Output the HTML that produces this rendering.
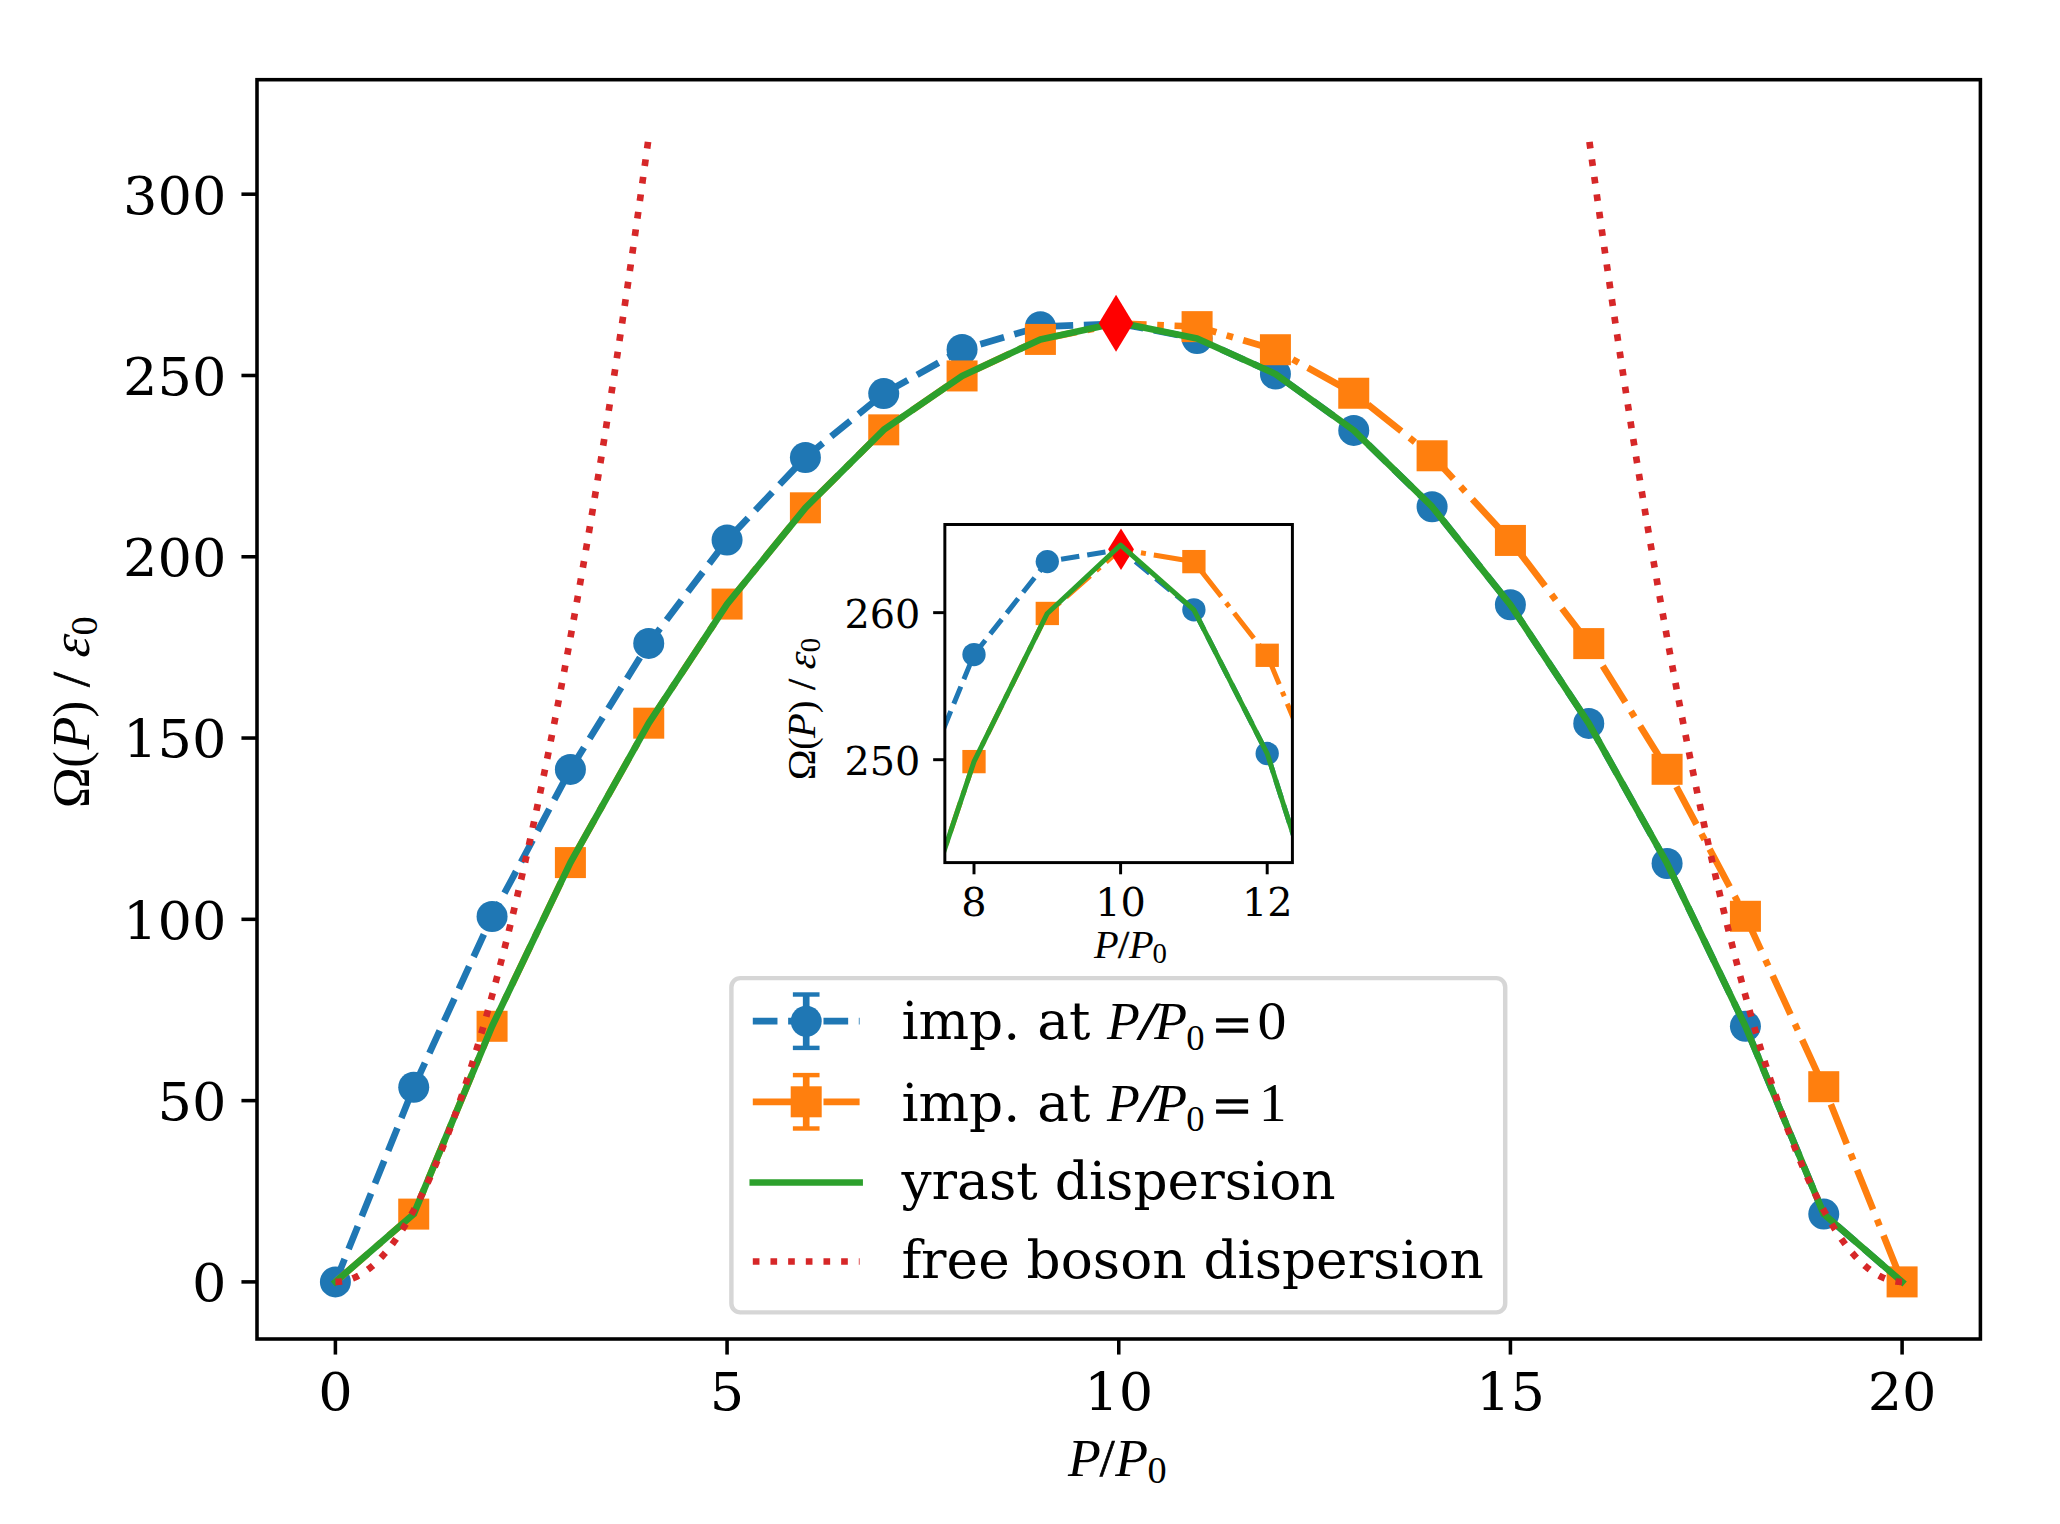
<!DOCTYPE html>
<html><head><meta charset="utf-8"><title>Dispersion</title><style>html,body{margin:0;padding:0;background:#fff}svg{display:block}</style></head><body>
<svg width="2060" height="1524" viewBox="0 0 2060 1524">
<style>.t{font-family:"DejaVu Serif","Liberation Serif",serif;fill:#000}.mr{font-family:"Liberation Serif","DejaVu Serif",serif;fill:#000}.mi{font-family:"Liberation Serif","DejaVu Serif",serif;font-style:italic;fill:#000}</style>
<rect width="2060" height="1524" fill="#fff"/>
<defs><clipPath id="cm"><rect x="257" y="79.7" width="1723.4" height="1259.3"/></clipPath>
<clipPath id="ci"><rect x="944.85" y="524.5" width="347.55" height="338.1"/></clipPath></defs>
<g clip-path="url(#cm)" fill="none">
<polyline stroke="#1f77b4" stroke-width="6.67" stroke-dasharray="24.67 10.67" stroke-dashoffset="0" points="335.4,1281.9 413.73,1087.31 492.07,916.43 570.4,769.41 648.74,643.41 727.07,540.08 805.41,457.42 883.74,393.6 962.08,349.55 1040.41,326.64 1118.75,323.63 1197.09,338.53 1275.42,373.95 1353.75,430.4 1432.09,506.73 1510.42,604.8 1588.76,723.4 1667.09,863.49 1745.43,1026.29 1823.76,1214.1 1902.1,1281.9"/>
<circle cx="335.4" cy="1281.9" r="15.5" fill="#1f77b4"/>
<circle cx="413.73" cy="1087.31" r="15.5" fill="#1f77b4"/>
<circle cx="492.07" cy="916.43" r="15.5" fill="#1f77b4"/>
<circle cx="570.4" cy="769.41" r="15.5" fill="#1f77b4"/>
<circle cx="648.74" cy="643.41" r="15.5" fill="#1f77b4"/>
<circle cx="727.07" cy="540.08" r="15.5" fill="#1f77b4"/>
<circle cx="805.41" cy="457.42" r="15.5" fill="#1f77b4"/>
<circle cx="883.74" cy="393.6" r="15.5" fill="#1f77b4"/>
<circle cx="962.08" cy="349.55" r="15.5" fill="#1f77b4"/>
<circle cx="1040.41" cy="326.64" r="15.5" fill="#1f77b4"/>
<circle cx="1197.09" cy="338.53" r="15.5" fill="#1f77b4"/>
<circle cx="1275.42" cy="373.95" r="15.5" fill="#1f77b4"/>
<circle cx="1353.75" cy="430.4" r="15.5" fill="#1f77b4"/>
<circle cx="1432.09" cy="506.73" r="15.5" fill="#1f77b4"/>
<circle cx="1510.42" cy="604.8" r="15.5" fill="#1f77b4"/>
<circle cx="1588.76" cy="723.4" r="15.5" fill="#1f77b4"/>
<circle cx="1667.09" cy="863.49" r="15.5" fill="#1f77b4"/>
<circle cx="1745.43" cy="1026.29" r="15.5" fill="#1f77b4"/>
<circle cx="1823.76" cy="1214.1" r="15.5" fill="#1f77b4"/>
<polyline stroke="#ff7f0e" stroke-width="6.67" stroke-dasharray="42.67 10.67 6.67 10.67" stroke-dashoffset="0" points="335.4,1281.9 413.73,1214.1 492.07,1026.29 570.4,862.59 648.74,723.18 727.07,604.08 805.41,507.81 883.74,429.86 962.08,375.95 1040.41,339.42 1118.75,323.63 1197.09,326.64 1275.42,349.73 1353.75,393.24 1432.09,455.78 1510.42,540.44 1588.76,643.6 1667.09,769.3 1745.43,916.28 1823.76,1086.69 1902.1,1281.9"/>
<rect x="398.23" y="1198.6" width="31" height="31" fill="#ff7f0e"/>
<rect x="476.57" y="1010.79" width="31" height="31" fill="#ff7f0e"/>
<rect x="554.9" y="847.09" width="31" height="31" fill="#ff7f0e"/>
<rect x="633.24" y="707.68" width="31" height="31" fill="#ff7f0e"/>
<rect x="711.57" y="588.58" width="31" height="31" fill="#ff7f0e"/>
<rect x="789.91" y="492.31" width="31" height="31" fill="#ff7f0e"/>
<rect x="868.24" y="414.36" width="31" height="31" fill="#ff7f0e"/>
<rect x="946.58" y="360.45" width="31" height="31" fill="#ff7f0e"/>
<rect x="1024.91" y="323.92" width="31" height="31" fill="#ff7f0e"/>
<rect x="1181.59" y="311.14" width="31" height="31" fill="#ff7f0e"/>
<rect x="1259.92" y="334.23" width="31" height="31" fill="#ff7f0e"/>
<rect x="1338.25" y="377.74" width="31" height="31" fill="#ff7f0e"/>
<rect x="1416.59" y="440.28" width="31" height="31" fill="#ff7f0e"/>
<rect x="1494.92" y="524.94" width="31" height="31" fill="#ff7f0e"/>
<rect x="1573.26" y="628.1" width="31" height="31" fill="#ff7f0e"/>
<rect x="1651.59" y="753.8" width="31" height="31" fill="#ff7f0e"/>
<rect x="1729.93" y="900.78" width="31" height="31" fill="#ff7f0e"/>
<rect x="1808.26" y="1071.19" width="31" height="31" fill="#ff7f0e"/>
<rect x="1886.6" y="1266.4" width="31" height="31" fill="#ff7f0e"/>
<polyline stroke="#2ca02c" stroke-width="6.67" stroke-linejoin="round" stroke-linecap="square" points="335.4,1281.9 413.73,1214.1 492.07,1026.29 570.4,862.59 648.74,723.18 727.07,604.08 805.41,507.81 883.74,429.86 962.08,375.95 1040.41,339.42 1118.75,322.54 1197.09,338.53 1275.42,373.95 1353.75,430.4 1432.09,506.73 1510.42,604.8 1588.76,723.4 1667.09,863.49 1745.43,1026.29 1823.76,1214.1 1902.1,1281.9"/>
<polyline stroke="#d62728" stroke-width="6.67" stroke-dasharray="6.67 11" points="335.4,1281.9 336.18,1281.89 336.97,1281.87 337.75,1281.84 338.53,1281.79 339.32,1281.72 340.1,1281.64 340.88,1281.55 341.67,1281.44 342.45,1281.32 343.23,1281.18 344.02,1281.03 344.8,1280.87 345.58,1280.69 346.37,1280.5 347.15,1280.29 347.93,1280.07 348.72,1279.83 349.5,1279.58 350.28,1279.32 351.07,1279.04 351.85,1278.74 352.63,1278.44 353.42,1278.11 354.2,1277.78 354.98,1277.43 355.77,1277.06 356.55,1276.68 357.33,1276.29 358.12,1275.88 358.9,1275.46 359.68,1275.02 360.47,1274.57 361.25,1274.11 362.03,1273.63 362.82,1273.13 363.6,1272.62 364.38,1272.1 365.17,1271.57 365.95,1271.01 366.73,1270.45 367.52,1269.87 368.3,1269.28 369.08,1268.67 369.87,1268.04 370.65,1267.41 371.43,1266.76 372.22,1266.09 373,1265.41 373.78,1264.72 374.57,1264.01 375.35,1263.29 376.13,1262.55 376.92,1261.8 377.7,1261.03 378.48,1260.25 379.27,1259.46 380.05,1258.65 380.83,1257.82 381.62,1256.99 382.4,1256.14 383.18,1255.27 383.97,1254.39 384.75,1253.49 385.53,1252.59 386.32,1251.66 387.1,1250.72 387.88,1249.77 388.67,1248.81 389.45,1247.83 390.23,1246.83 391.02,1245.82 391.8,1244.8 392.58,1243.76 393.37,1242.71 394.15,1241.64 394.93,1240.56 395.72,1239.47 396.5,1238.36 397.28,1237.23 398.07,1236.1 398.85,1234.94 399.63,1233.78 400.42,1232.6 401.2,1231.4 401.98,1230.19 402.77,1228.97 403.55,1227.73 404.33,1226.48 405.12,1225.21 405.9,1223.93 406.68,1222.63 407.47,1221.32 408.25,1220 409.03,1218.66 409.82,1217.31 410.6,1215.94 411.38,1214.56 412.17,1213.17 412.95,1211.76 413.73,1210.33 414.52,1208.89 415.3,1207.44 416.09,1205.97 416.87,1204.49 417.65,1203 418.44,1201.49 419.22,1199.96 420,1198.42 420.79,1196.87 421.57,1195.3 422.35,1193.72 423.14,1192.12 423.92,1190.51 424.7,1188.89 425.49,1187.25 426.27,1185.6 427.05,1183.93 427.84,1182.25 428.62,1180.55 429.4,1178.84 430.19,1177.12 430.97,1175.38 431.75,1173.62 432.54,1171.86 433.32,1170.07 434.1,1168.28 434.89,1166.47 435.67,1164.64 436.45,1162.8 437.24,1160.95 438.02,1159.08 438.8,1157.2 439.59,1155.3 440.37,1153.39 441.15,1151.47 441.94,1149.53 442.72,1147.57 443.5,1145.61 444.29,1143.62 445.07,1141.63 445.85,1139.61 446.64,1137.59 447.42,1135.55 448.2,1133.5 448.99,1131.43 449.77,1129.34 450.55,1127.25 451.34,1125.14 452.12,1123.01 452.9,1120.87 453.69,1118.72 454.47,1116.55 455.25,1114.37 456.04,1112.17 456.82,1109.96 457.6,1107.73 458.39,1105.49 459.17,1103.24 459.95,1100.97 460.74,1098.68 461.52,1096.39 462.3,1094.08 463.09,1091.75 463.87,1089.41 464.65,1087.05 465.44,1084.69 466.22,1082.3 467,1079.91 467.79,1077.49 468.57,1075.07 469.35,1072.63 470.14,1070.17 470.92,1067.7 471.7,1065.22 472.49,1062.72 473.27,1060.21 474.05,1057.68 474.84,1055.14 475.62,1052.59 476.4,1050.02 477.19,1047.43 477.97,1044.84 478.75,1042.22 479.54,1039.6 480.32,1036.96 481.1,1034.3 481.89,1031.63 482.67,1028.95 483.45,1026.25 484.24,1023.54 485.02,1020.81 485.8,1018.07 486.59,1015.31 487.37,1012.54 488.15,1009.76 488.94,1006.96 489.72,1004.15 490.5,1001.32 491.29,998.48 492.07,995.63 492.85,992.76 493.64,989.87 494.42,986.97 495.2,984.06 495.99,981.13 496.77,978.19 497.55,975.24 498.34,972.27 499.12,969.28 499.9,966.28 500.69,963.27 501.47,960.24 502.25,957.2 503.04,954.15 503.82,951.07 504.6,947.99 505.39,944.89 506.17,941.78 506.95,938.65 507.74,935.51 508.52,932.35 509.3,929.18 510.09,926 510.87,922.8 511.65,919.58 512.44,916.36 513.22,913.11 514,909.86 514.79,906.59 515.57,903.3 516.35,900 517.14,896.69 517.92,893.36 518.7,890.02 519.49,886.66 520.27,883.29 521.05,879.91 521.84,876.51 522.62,873.09 523.4,869.67 524.19,866.22 524.97,862.77 525.75,859.3 526.54,855.81 527.32,852.31 528.1,848.8 528.89,845.27 529.67,841.73 530.45,838.17 531.24,834.6 532.02,831.01 532.8,827.41 533.59,823.8 534.37,820.17 535.15,816.53 535.94,812.87 536.72,809.2 537.5,805.51 538.29,801.81 539.07,798.1 539.85,794.37 540.64,790.63 541.42,786.87 542.2,783.1 542.99,779.31 543.77,775.51 544.55,771.7 545.34,767.87 546.12,764.02 546.9,760.17 547.69,756.29 548.47,752.41 549.25,748.51 550.04,744.59 550.82,740.66 551.6,736.72 552.39,732.76 553.17,728.79 553.95,724.8 554.74,720.8 555.52,716.79 556.3,712.76 557.09,708.72 557.87,704.66 558.65,700.59 559.44,696.5 560.22,692.4 561,688.28 561.79,684.15 562.57,680.01 563.35,675.85 564.14,671.68 564.92,667.49 565.7,663.29 566.49,659.08 567.27,654.85 568.05,650.6 568.84,646.34 569.62,642.07 570.4,637.78 571.19,633.48 571.97,629.17 572.76,624.84 573.54,620.49 574.32,616.13 575.11,611.76 575.89,607.37 576.67,602.97 577.46,598.56 578.24,594.13 579.02,589.68 579.81,585.22 580.59,580.75 581.37,576.26 582.16,571.76 582.94,567.25 583.72,562.72 584.51,558.17 585.29,553.61 586.07,549.04 586.86,544.45 587.64,539.85 588.42,535.23 589.21,530.6 589.99,525.96 590.77,521.3 591.56,516.63 592.34,511.94 593.12,507.24 593.91,502.52 594.69,497.79 595.47,493.04 596.26,488.28 597.04,483.51 597.82,478.72 598.61,473.92 599.39,469.1 600.17,464.27 600.96,459.43 601.74,454.57 602.52,449.69 603.31,444.81 604.09,439.9 604.87,434.99 605.66,430.06 606.44,425.11 607.22,420.15 608.01,415.18 608.79,410.19 609.57,405.19 610.36,400.17 611.14,395.14 611.92,390.09 612.71,385.03 613.49,379.96 614.27,374.87 615.06,369.77 615.84,364.65 616.62,359.52 617.41,354.37 618.19,349.21 618.97,344.04 619.76,338.85 620.54,333.65 621.32,328.43 622.11,323.2 622.89,317.95 623.67,312.69 624.46,307.42 625.24,302.13 626.02,296.82 626.81,291.51 627.59,286.18 628.37,280.83 629.16,275.47 629.94,270.09 630.72,264.7 631.51,259.3 632.29,253.88 633.07,248.45 633.86,243.01 634.64,237.54 635.42,232.07 636.21,226.58 636.99,221.08 637.77,215.56 638.56,210.03 639.34,204.48 640.12,198.92 640.91,193.34 641.69,187.75 642.47,182.15 643.26,176.53 644.04,170.9 644.82,165.25 645.61,159.59 646.39,153.92 647.17,148.23 647.96,142.52 648.74,136.8"/>
<polyline stroke="#d62728" stroke-width="6.67" stroke-dasharray="6.67 11" points="1902.1,1281.9 1901.32,1281.89 1900.53,1281.87 1899.75,1281.84 1898.97,1281.79 1898.18,1281.72 1897.4,1281.64 1896.62,1281.55 1895.83,1281.44 1895.05,1281.32 1894.27,1281.18 1893.48,1281.03 1892.7,1280.87 1891.92,1280.69 1891.13,1280.5 1890.35,1280.29 1889.57,1280.07 1888.78,1279.83 1888,1279.58 1887.22,1279.32 1886.43,1279.04 1885.65,1278.74 1884.87,1278.44 1884.08,1278.11 1883.3,1277.78 1882.52,1277.43 1881.73,1277.06 1880.95,1276.68 1880.17,1276.29 1879.38,1275.88 1878.6,1275.46 1877.82,1275.02 1877.03,1274.57 1876.25,1274.11 1875.47,1273.63 1874.68,1273.13 1873.9,1272.62 1873.12,1272.1 1872.33,1271.57 1871.55,1271.01 1870.77,1270.45 1869.98,1269.87 1869.2,1269.28 1868.42,1268.67 1867.63,1268.04 1866.85,1267.41 1866.07,1266.76 1865.28,1266.09 1864.5,1265.41 1863.72,1264.72 1862.93,1264.01 1862.15,1263.29 1861.37,1262.55 1860.58,1261.8 1859.8,1261.03 1859.02,1260.25 1858.23,1259.46 1857.45,1258.65 1856.67,1257.82 1855.88,1256.99 1855.1,1256.14 1854.32,1255.27 1853.53,1254.39 1852.75,1253.49 1851.97,1252.59 1851.18,1251.66 1850.4,1250.72 1849.62,1249.77 1848.83,1248.81 1848.05,1247.83 1847.27,1246.83 1846.48,1245.82 1845.7,1244.8 1844.92,1243.76 1844.13,1242.71 1843.35,1241.64 1842.57,1240.56 1841.78,1239.47 1841,1238.36 1840.22,1237.23 1839.43,1236.1 1838.65,1234.94 1837.87,1233.78 1837.08,1232.6 1836.3,1231.4 1835.52,1230.19 1834.73,1228.97 1833.95,1227.73 1833.17,1226.48 1832.38,1225.21 1831.6,1223.93 1830.82,1222.63 1830.03,1221.32 1829.25,1220 1828.47,1218.66 1827.68,1217.31 1826.9,1215.94 1826.12,1214.56 1825.33,1213.17 1824.55,1211.76 1823.76,1210.33 1822.98,1208.89 1822.2,1207.44 1821.41,1205.97 1820.63,1204.49 1819.85,1203 1819.06,1201.49 1818.28,1199.96 1817.5,1198.42 1816.71,1196.87 1815.93,1195.3 1815.15,1193.72 1814.36,1192.12 1813.58,1190.51 1812.8,1188.89 1812.01,1187.25 1811.23,1185.6 1810.45,1183.93 1809.66,1182.25 1808.88,1180.55 1808.1,1178.84 1807.31,1177.12 1806.53,1175.38 1805.75,1173.62 1804.96,1171.86 1804.18,1170.07 1803.4,1168.28 1802.61,1166.47 1801.83,1164.64 1801.05,1162.8 1800.26,1160.95 1799.48,1159.08 1798.7,1157.2 1797.91,1155.3 1797.13,1153.39 1796.35,1151.47 1795.56,1149.53 1794.78,1147.57 1794,1145.61 1793.21,1143.62 1792.43,1141.63 1791.65,1139.61 1790.86,1137.59 1790.08,1135.55 1789.3,1133.5 1788.51,1131.43 1787.73,1129.34 1786.95,1127.25 1786.16,1125.14 1785.38,1123.01 1784.6,1120.87 1783.81,1118.72 1783.03,1116.55 1782.25,1114.37 1781.46,1112.17 1780.68,1109.96 1779.9,1107.73 1779.11,1105.49 1778.33,1103.24 1777.55,1100.97 1776.76,1098.68 1775.98,1096.39 1775.2,1094.08 1774.41,1091.75 1773.63,1089.41 1772.85,1087.05 1772.06,1084.69 1771.28,1082.3 1770.5,1079.91 1769.71,1077.49 1768.93,1075.07 1768.15,1072.63 1767.36,1070.17 1766.58,1067.7 1765.8,1065.22 1765.01,1062.72 1764.23,1060.21 1763.45,1057.68 1762.66,1055.14 1761.88,1052.59 1761.1,1050.02 1760.31,1047.43 1759.53,1044.84 1758.75,1042.22 1757.96,1039.6 1757.18,1036.96 1756.4,1034.3 1755.61,1031.63 1754.83,1028.95 1754.05,1026.25 1753.26,1023.54 1752.48,1020.81 1751.7,1018.07 1750.91,1015.31 1750.13,1012.54 1749.35,1009.76 1748.56,1006.96 1747.78,1004.15 1747,1001.32 1746.21,998.48 1745.43,995.63 1744.65,992.76 1743.86,989.87 1743.08,986.97 1742.3,984.06 1741.51,981.13 1740.73,978.19 1739.95,975.24 1739.16,972.27 1738.38,969.28 1737.6,966.28 1736.81,963.27 1736.03,960.24 1735.25,957.2 1734.46,954.15 1733.68,951.07 1732.9,947.99 1732.11,944.89 1731.33,941.78 1730.55,938.65 1729.76,935.51 1728.98,932.35 1728.2,929.18 1727.41,926 1726.63,922.8 1725.85,919.58 1725.06,916.36 1724.28,913.11 1723.5,909.86 1722.71,906.59 1721.93,903.3 1721.15,900 1720.36,896.69 1719.58,893.36 1718.8,890.02 1718.01,886.66 1717.23,883.29 1716.45,879.91 1715.66,876.51 1714.88,873.09 1714.1,869.67 1713.31,866.22 1712.53,862.77 1711.75,859.3 1710.96,855.81 1710.18,852.31 1709.4,848.8 1708.61,845.27 1707.83,841.73 1707.05,838.17 1706.26,834.6 1705.48,831.01 1704.7,827.41 1703.91,823.8 1703.13,820.17 1702.35,816.53 1701.56,812.87 1700.78,809.2 1700,805.51 1699.21,801.81 1698.43,798.1 1697.65,794.37 1696.86,790.63 1696.08,786.87 1695.3,783.1 1694.51,779.31 1693.73,775.51 1692.95,771.7 1692.16,767.87 1691.38,764.02 1690.6,760.17 1689.81,756.29 1689.03,752.41 1688.25,748.51 1687.46,744.59 1686.68,740.66 1685.9,736.72 1685.11,732.76 1684.33,728.79 1683.55,724.8 1682.76,720.8 1681.98,716.79 1681.2,712.76 1680.41,708.72 1679.63,704.66 1678.85,700.59 1678.06,696.5 1677.28,692.4 1676.5,688.28 1675.71,684.15 1674.93,680.01 1674.15,675.85 1673.36,671.68 1672.58,667.49 1671.8,663.29 1671.01,659.08 1670.23,654.85 1669.45,650.6 1668.66,646.34 1667.88,642.07 1667.09,637.78 1666.31,633.48 1665.53,629.17 1664.74,624.84 1663.96,620.49 1663.18,616.13 1662.39,611.76 1661.61,607.37 1660.83,602.97 1660.04,598.56 1659.26,594.13 1658.48,589.68 1657.69,585.22 1656.91,580.75 1656.13,576.26 1655.34,571.76 1654.56,567.25 1653.78,562.72 1652.99,558.17 1652.21,553.61 1651.43,549.04 1650.64,544.45 1649.86,539.85 1649.08,535.23 1648.29,530.6 1647.51,525.96 1646.73,521.3 1645.94,516.63 1645.16,511.94 1644.38,507.24 1643.59,502.52 1642.81,497.79 1642.03,493.04 1641.24,488.28 1640.46,483.51 1639.68,478.72 1638.89,473.92 1638.11,469.1 1637.33,464.27 1636.54,459.43 1635.76,454.57 1634.98,449.69 1634.19,444.81 1633.41,439.9 1632.63,434.99 1631.84,430.06 1631.06,425.11 1630.28,420.15 1629.49,415.18 1628.71,410.19 1627.93,405.19 1627.14,400.17 1626.36,395.14 1625.58,390.09 1624.79,385.03 1624.01,379.96 1623.23,374.87 1622.44,369.77 1621.66,364.65 1620.88,359.52 1620.09,354.37 1619.31,349.21 1618.53,344.04 1617.74,338.85 1616.96,333.65 1616.18,328.43 1615.39,323.2 1614.61,317.95 1613.83,312.69 1613.04,307.42 1612.26,302.13 1611.48,296.82 1610.69,291.51 1609.91,286.18 1609.13,280.83 1608.34,275.47 1607.56,270.09 1606.78,264.7 1605.99,259.3 1605.21,253.88 1604.43,248.45 1603.64,243.01 1602.86,237.54 1602.08,232.07 1601.29,226.58 1600.51,221.08 1599.73,215.56 1598.94,210.03 1598.16,204.48 1597.38,198.92 1596.59,193.34 1595.81,187.75 1595.03,182.15 1594.24,176.53 1593.46,170.9 1592.68,165.25 1591.89,159.59 1591.11,153.92 1590.33,148.23 1589.54,142.52 1588.76,136.8"/>
<polygon fill="#ff0000" points="1116.05,294.8 1133.35,323.25 1116.05,351.7 1098.75,323.25"/>
</g>
<rect x="257" y="79.7" width="1723.4" height="1259.3" fill="none" stroke="#000" stroke-width="3.56"/>
<line x1="335.4" y1="1339" x2="335.4" y2="1354.56" stroke="#000" stroke-width="3.56"/>
<text class="t" transform="translate(335.4,1410.2) scale(1.0150,0.9750)" font-size="53.4" text-anchor="middle">0</text>
<line x1="727.07" y1="1339" x2="727.07" y2="1354.56" stroke="#000" stroke-width="3.56"/>
<text class="t" transform="translate(727.07,1410.2) scale(1.0150,0.9750)" font-size="53.4" text-anchor="middle">5</text>
<line x1="1118.75" y1="1339" x2="1118.75" y2="1354.56" stroke="#000" stroke-width="3.56"/>
<text class="t" transform="translate(1118.75,1410.2) scale(1.0150,0.9750)" font-size="53.4" text-anchor="middle">10</text>
<line x1="1510.42" y1="1339" x2="1510.42" y2="1354.56" stroke="#000" stroke-width="3.56"/>
<text class="t" transform="translate(1510.42,1410.2) scale(1.0150,0.9750)" font-size="53.4" text-anchor="middle">15</text>
<line x1="1902.1" y1="1339" x2="1902.1" y2="1354.56" stroke="#000" stroke-width="3.56"/>
<text class="t" transform="translate(1902.1,1410.2) scale(1.0150,0.9750)" font-size="53.4" text-anchor="middle">20</text>
<line x1="257" y1="1281.9" x2="241.44" y2="1281.9" stroke="#000" stroke-width="3.56"/>
<text class="t" transform="translate(226.39,1301.3) scale(1.0150,0.9750)" font-size="53.4" text-anchor="end">0</text>
<line x1="257" y1="1100.62" x2="241.44" y2="1100.62" stroke="#000" stroke-width="3.56"/>
<text class="t" transform="translate(226.39,1120.02) scale(1.0150,0.9750)" font-size="53.4" text-anchor="end">50</text>
<line x1="257" y1="919.33" x2="241.44" y2="919.33" stroke="#000" stroke-width="3.56"/>
<text class="t" transform="translate(226.39,938.73) scale(1.0150,0.9750)" font-size="53.4" text-anchor="end">100</text>
<line x1="257" y1="738.05" x2="241.44" y2="738.05" stroke="#000" stroke-width="3.56"/>
<text class="t" transform="translate(226.39,757.45) scale(1.0150,0.9750)" font-size="53.4" text-anchor="end">150</text>
<line x1="257" y1="556.76" x2="241.44" y2="556.76" stroke="#000" stroke-width="3.56"/>
<text class="t" transform="translate(226.39,576.16) scale(1.0150,0.9750)" font-size="53.4" text-anchor="end">200</text>
<line x1="257" y1="375.48" x2="241.44" y2="375.48" stroke="#000" stroke-width="3.56"/>
<text class="t" transform="translate(226.39,394.88) scale(1.0150,0.9750)" font-size="53.4" text-anchor="end">250</text>
<line x1="257" y1="194.19" x2="241.44" y2="194.19" stroke="#000" stroke-width="3.56"/>
<text class="t" transform="translate(226.39,213.59) scale(1.0150,0.9750)" font-size="53.4" text-anchor="end">300</text>
<text class="mi" x="1068.09" y="1475.8" font-size="53.7">P</text>
<text class="mr" x="1099.8" y="1475.8" font-size="53.7" stroke="#000" stroke-width="0.7">/</text>
<text class="mi" x="1115.19" y="1475.8" font-size="53.7">P</text>
<text class="mr" x="1147.44" y="1483.2" font-size="38.3">0</text>
<g transform="translate(88.9,805.5) rotate(-90)">
<text class="mr" transform="translate(-2.86,0) scale(1.03,1)" font-size="53.7">Ω</text>
<text class="mr" x="37.79" y="-1" font-size="50.21">(</text>
<text class="mi" x="56.09" y="0" font-size="53.7">P</text>
<text class="mr" x="87.98" y="-1" font-size="50.21">)</text>
<text class="mr" x="118.5" y="0" font-size="53.7" stroke="#000" stroke-width="0.7">/</text>
<text class="mi" transform="translate(146.95,0) skewX(-9)" font-size="53.7">ε</text>
<text class="mr" x="170.14" y="7.9" font-size="38.3">0</text>
</g>
<rect x="944.85" y="524.5" width="347.55" height="338.1" fill="#fff"/>
<g clip-path="url(#ci)" fill="none">
<polyline stroke="#1f77b4" stroke-width="5" stroke-dasharray="18.5 8" stroke-dashoffset="5.4" points="387.6,4435.95 460.9,3646.73 534.2,2953.69 607.5,2357.4 680.8,1846.4 754.1,1427.31 827.4,1092.03 900.7,833.23 974,654.56 1047.3,561.62 1120.6,549.42 1193.9,609.86 1267.2,753.52 1340.5,982.48 1413.8,1292.02 1487.1,1689.79 1560.4,2170.79 1633.7,2738.99 1707,3399.25 1780.3,4160.97 1853.6,4435.95"/>
<circle cx="387.6" cy="4435.95" r="11.65" fill="#1f77b4"/>
<circle cx="460.9" cy="3646.73" r="11.65" fill="#1f77b4"/>
<circle cx="534.2" cy="2953.69" r="11.65" fill="#1f77b4"/>
<circle cx="607.5" cy="2357.4" r="11.65" fill="#1f77b4"/>
<circle cx="680.8" cy="1846.4" r="11.65" fill="#1f77b4"/>
<circle cx="754.1" cy="1427.31" r="11.65" fill="#1f77b4"/>
<circle cx="827.4" cy="1092.03" r="11.65" fill="#1f77b4"/>
<circle cx="900.7" cy="833.23" r="11.65" fill="#1f77b4"/>
<circle cx="974" cy="654.56" r="11.65" fill="#1f77b4"/>
<circle cx="1047.3" cy="561.62" r="11.65" fill="#1f77b4"/>
<circle cx="1193.9" cy="609.86" r="11.65" fill="#1f77b4"/>
<circle cx="1267.2" cy="753.52" r="11.65" fill="#1f77b4"/>
<circle cx="1340.5" cy="982.48" r="11.65" fill="#1f77b4"/>
<circle cx="1413.8" cy="1292.02" r="11.65" fill="#1f77b4"/>
<circle cx="1487.1" cy="1689.79" r="11.65" fill="#1f77b4"/>
<circle cx="1560.4" cy="2170.79" r="11.65" fill="#1f77b4"/>
<circle cx="1633.7" cy="2738.99" r="11.65" fill="#1f77b4"/>
<circle cx="1707" cy="3399.25" r="11.65" fill="#1f77b4"/>
<circle cx="1780.3" cy="4160.97" r="11.65" fill="#1f77b4"/>
<polyline stroke="#ff7f0e" stroke-width="5" stroke-dasharray="32 8 5 8" stroke-dashoffset="2.8" points="387.6,4435.95 460.9,4160.97 534.2,3399.25 607.5,2735.32 680.8,2169.91 754.1,1686.85 827.4,1296.43 900.7,980.28 974,761.61 1047.3,613.46 1120.6,549.42 1193.9,561.62 1267.2,655.29 1340.5,831.75 1413.8,1085.42 1487.1,1428.78 1560.4,1847.13 1633.7,2356.96 1707,2953.1 1780.3,3644.23 1853.6,4435.95"/>
<rect x="449.25" y="4149.32" width="23.3" height="23.3" fill="#ff7f0e"/>
<rect x="522.55" y="3387.6" width="23.3" height="23.3" fill="#ff7f0e"/>
<rect x="595.85" y="2723.67" width="23.3" height="23.3" fill="#ff7f0e"/>
<rect x="669.15" y="2158.26" width="23.3" height="23.3" fill="#ff7f0e"/>
<rect x="742.45" y="1675.2" width="23.3" height="23.3" fill="#ff7f0e"/>
<rect x="815.75" y="1284.78" width="23.3" height="23.3" fill="#ff7f0e"/>
<rect x="889.05" y="968.63" width="23.3" height="23.3" fill="#ff7f0e"/>
<rect x="962.35" y="749.96" width="23.3" height="23.3" fill="#ff7f0e"/>
<rect x="1035.65" y="601.81" width="23.3" height="23.3" fill="#ff7f0e"/>
<rect x="1182.25" y="549.97" width="23.3" height="23.3" fill="#ff7f0e"/>
<rect x="1255.55" y="643.64" width="23.3" height="23.3" fill="#ff7f0e"/>
<rect x="1328.85" y="820.1" width="23.3" height="23.3" fill="#ff7f0e"/>
<rect x="1402.15" y="1073.77" width="23.3" height="23.3" fill="#ff7f0e"/>
<rect x="1475.45" y="1417.13" width="23.3" height="23.3" fill="#ff7f0e"/>
<rect x="1548.75" y="1835.48" width="23.3" height="23.3" fill="#ff7f0e"/>
<rect x="1622.05" y="2345.31" width="23.3" height="23.3" fill="#ff7f0e"/>
<rect x="1695.35" y="2941.45" width="23.3" height="23.3" fill="#ff7f0e"/>
<rect x="1768.65" y="3632.58" width="23.3" height="23.3" fill="#ff7f0e"/>
<rect x="1841.95" y="4424.3" width="23.3" height="23.3" fill="#ff7f0e"/>
<polygon fill="#ff0000" points="1121,528.4 1133.9,549.2 1121,570 1108.1,549.2"/>
<polyline stroke="#2ca02c" stroke-width="5" stroke-linejoin="round" stroke-linecap="square" points="941.85,857.52 974,761.61 1047.3,613.46 1120.6,545.01 1193.9,609.86 1267.2,753.52 1295.4,841.61"/>
</g>
<rect x="944.85" y="524.5" width="347.55" height="338.1" fill="none" stroke="#000" stroke-width="2.97"/>
<line x1="974" y1="862.6" x2="974" y2="874.3" stroke="#000" stroke-width="2.97"/>
<text class="t" x="974" y="916.4" font-size="39.8" text-anchor="middle">8</text>
<line x1="1120.6" y1="862.6" x2="1120.6" y2="874.3" stroke="#000" stroke-width="2.97"/>
<text class="t" x="1120.6" y="916.4" font-size="39.8" text-anchor="middle">10</text>
<line x1="1267.2" y1="862.6" x2="1267.2" y2="874.3" stroke="#000" stroke-width="2.97"/>
<text class="t" x="1267.2" y="916.4" font-size="39.8" text-anchor="middle">12</text>
<line x1="944.85" y1="759.7" x2="933.15" y2="759.7" stroke="#000" stroke-width="2.97"/>
<text class="t" x="920.45" y="774.9" font-size="39.8" text-anchor="end">250</text>
<line x1="944.85" y1="612.65" x2="933.15" y2="612.65" stroke="#000" stroke-width="2.97"/>
<text class="t" x="920.45" y="627.85" font-size="39.8" text-anchor="end">260</text>
<text class="mi" x="1094.02" y="957.9" font-size="40.4">P</text>
<text class="mr" x="1118" y="957.9" font-size="40.4" stroke="#000" stroke-width="0.5">/</text>
<text class="mi" x="1129.02" y="957.9" font-size="40.4">P</text>
<text class="mr" x="1152.4" y="963.4" font-size="28.8">0</text>
<g transform="translate(815.4,778.1) rotate(-90)">
<text class="mr" transform="translate(-2.15,0) scale(1.03,1)" font-size="40.4">Ω</text>
<text class="mr" x="28.24" y="-0.8" font-size="37.77">(</text>
<text class="mi" x="40.12" y="0" font-size="40.4">P</text>
<text class="mr" x="64.88" y="-0.8" font-size="37.77">)</text>
<text class="mr" x="88" y="0" font-size="40.4" stroke="#000" stroke-width="0.5">/</text>
<text class="mi" transform="translate(108.13,0) skewX(-9)" font-size="40.4">ε</text>
<text class="mr" x="125.8" y="5" font-size="28.8">0</text>
</g>
<rect x="731.4" y="978.1" width="773.8" height="334.3" rx="8.9" ry="8.9" fill="#fff" fill-opacity="0.8" stroke="#cccccc" stroke-opacity="0.8" stroke-width="4.44"/>
<line x1="752.8" y1="1021.2" x2="859.6" y2="1021.2" stroke="#1f77b4" stroke-width="6.67" stroke-dasharray="24.67 10.67"/>
<line x1="806.2" y1="994.5" x2="806.2" y2="1047.9" stroke="#1f77b4" stroke-width="6.67"/>
<line x1="792.87" y1="994.5" x2="819.53" y2="994.5" stroke="#1f77b4" stroke-width="4.44"/>
<line x1="792.87" y1="1047.9" x2="819.53" y2="1047.9" stroke="#1f77b4" stroke-width="4.44"/>
<circle cx="806.2" cy="1021.2" r="15.5" fill="#1f77b4"/>
<line x1="752.8" y1="1101.8" x2="859.6" y2="1101.8" stroke="#ff7f0e" stroke-width="6.67" stroke-dasharray="42.67 10.67 6.67 10.67"/>
<line x1="806.2" y1="1075.1" x2="806.2" y2="1128.5" stroke="#ff7f0e" stroke-width="6.67"/>
<line x1="792.87" y1="1075.1" x2="819.53" y2="1075.1" stroke="#ff7f0e" stroke-width="4.44"/>
<line x1="792.87" y1="1128.5" x2="819.53" y2="1128.5" stroke="#ff7f0e" stroke-width="4.44"/>
<rect x="790.7" y="1086.3" width="31" height="31" fill="#ff7f0e"/>
<line x1="752.8" y1="1182.5" x2="859.6" y2="1182.5" stroke="#2ca02c" stroke-width="6.67" stroke-linecap="square"/>
<line x1="752.8" y1="1261.5" x2="859.6" y2="1261.5" stroke="#d62728" stroke-width="6.67" stroke-dasharray="6.67 11"/>
<text class="t" transform="translate(901.4,1039.2) scale(1.0000,0.9700)" font-size="53.4">imp. at</text>
<text class="mi" x="1107.09" y="1039.2" font-size="53.7">P</text>
<text class="mi" transform="translate(1139.79,1039.2) scale(1.05,1)" font-size="53.7" stroke="#000" stroke-width="1.1">/</text>
<text class="mi" x="1154.29" y="1039.2" font-size="53.7">P</text>
<text class="mr" x="1186.31" y="1050" font-size="36.6">0</text>
<text class="mr" transform="translate(1213.66,1043.1) scale(1.21,1)" font-size="53.7" stroke="#000" stroke-width="1.5">=</text>
<text class="mr" transform="translate(1257.5,1039.2) scale(1.05,1)" font-size="55">0</text>
<text class="t" transform="translate(901.4,1120.5) scale(1.0000,0.9700)" font-size="53.4">imp. at</text>
<text class="mi" x="1107.09" y="1120.5" font-size="53.7">P</text>
<text class="mi" transform="translate(1139.79,1120.5) scale(1.05,1)" font-size="53.7" stroke="#000" stroke-width="1.1">/</text>
<text class="mi" x="1154.29" y="1120.5" font-size="53.7">P</text>
<text class="mr" x="1186.31" y="1131.3" font-size="36.6">0</text>
<text class="mr" transform="translate(1213.66,1124.4) scale(1.21,1)" font-size="53.7" stroke="#000" stroke-width="1.5">=</text>
<text class="mr" x="1259.07" y="1120.5" font-size="55">1</text>
<text class="t" transform="translate(901.4,1199.1) scale(1.0000,0.9700)" font-size="53.4">yrast dispersion</text>
<text class="t" transform="translate(901.4,1278.4) scale(0.9980,0.9700)" font-size="53.4">free boson dispersion</text>
</svg>
</body></html>
